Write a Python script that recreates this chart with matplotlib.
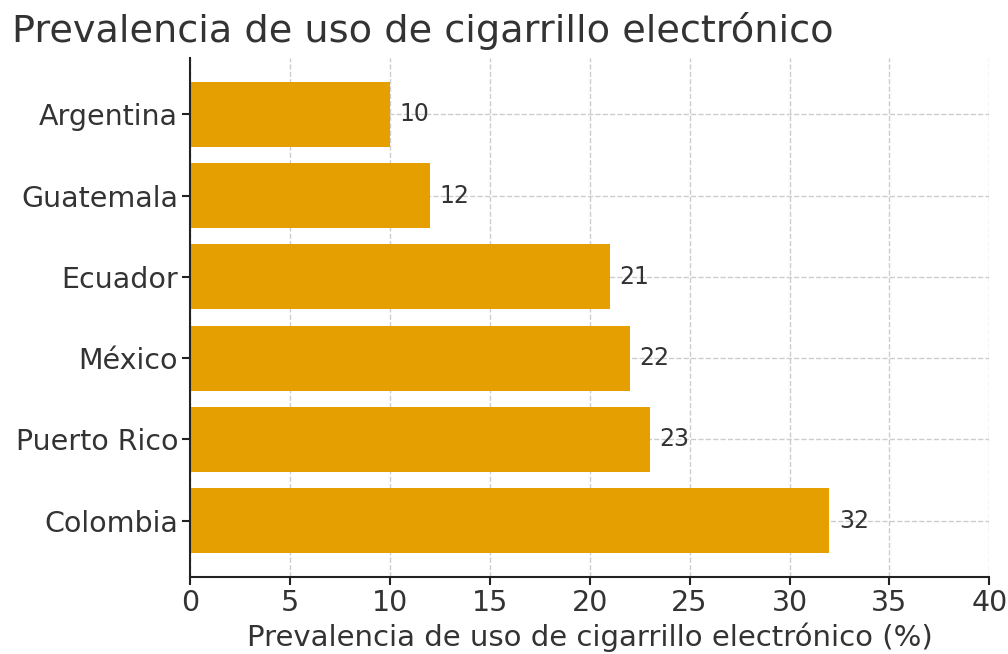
import matplotlib
matplotlib.use("Agg")
import matplotlib.pyplot as plt

countries = ["Colombia", "Puerto Rico", "México", "Ecuador", "Guatemala", "Argentina"]
values = [32, 23, 22, 21, 12, 10]
xticks = [0, 5, 10, 15, 20, 25, 30, 35, 40]

txt = "#333333"
fig = plt.figure(figsize=(10.08, 6.54), dpi=100)
ax = fig.add_axes([0.1885, 0.118, 0.793, 0.793])
bars = ax.barh(countries, values, height=0.8, color="#E69F00", zorder=2)
for b, v in zip(bars, values):
    ax.text(v + 0.5, b.get_y() + b.get_height() / 2, f"{v}", va="center", ha="left",
            fontsize=17, color=txt)
ax.set_xlim(0, 40)
ax.set_xticks(xticks)
ax.grid(True, linestyle="--", color="#cccccc", linewidth=1, zorder=0)
ax.set_axisbelow(True)
for s in ["top", "right"]:
    ax.spines[s].set_visible(False)
for s in ["left", "bottom"]:
    ax.spines[s].set_linewidth(1.5)
    ax.spines[s].set_color("#222222")
ax.tick_params(axis="both", labelsize=20.5, labelcolor=txt, length=6, width=1.5, color="#222222", pad=2.5)
ax.set_xlabel("Prevalencia de uso de cigarrillo electrónico (%)", fontsize=21, color=txt, labelpad=4)
fig.text(0.012, 0.952, "Prevalencia de uso de cigarrillo electrónico", fontsize=27.5, color=txt,
         ha="left", va="center")
fig.savefig("out.png", dpi=100)
